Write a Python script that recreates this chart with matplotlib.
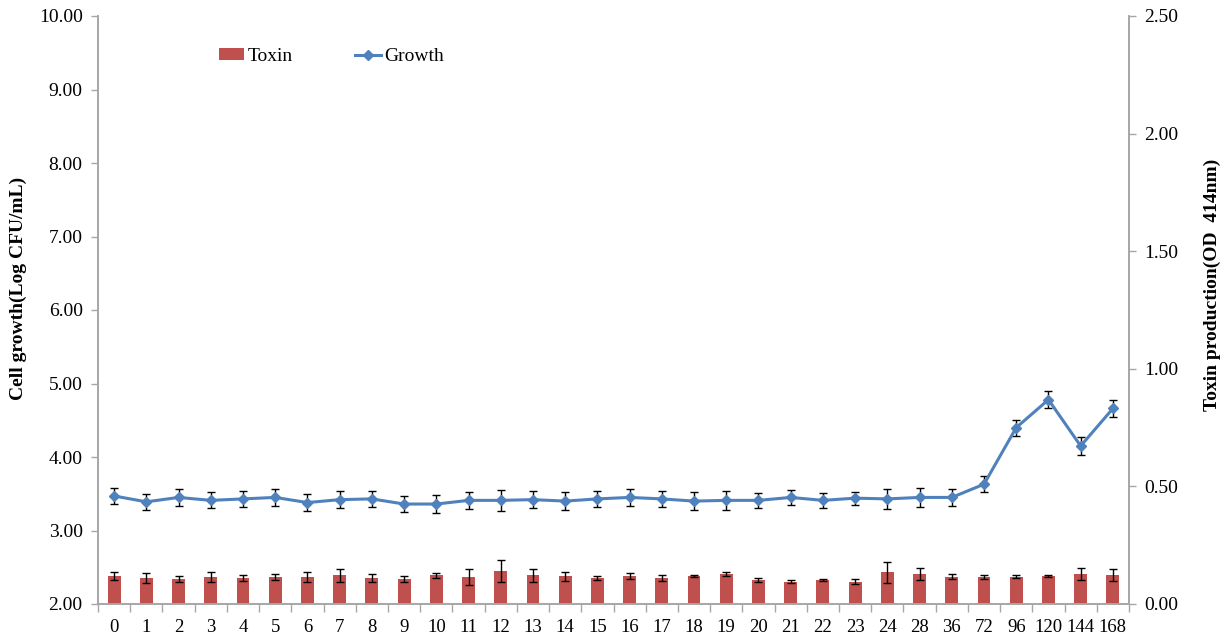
import matplotlib
matplotlib.use("Agg")
import matplotlib.pyplot as plt
from matplotlib.lines import Line2D
from matplotlib.patches import Patch
import numpy as np

# Sampling times (h)
times = ["0", "1", "2", "3", "4", "5", "6", "7", "8", "9", "10", "11", "12",
         "13", "14", "15", "16", "17", "18", "19", "20", "21", "22", "23", "24",
         "28", "36", "72", "96", "120", "144", "168"]

# Cell growth (Log CFU/mL) and its standard deviation
growth = [3.47, 3.39, 3.45, 3.41, 3.43, 3.45, 3.38, 3.42, 3.43, 3.36, 3.36, 3.41, 3.41,
          3.42, 3.40, 3.43, 3.45, 3.43, 3.40, 3.41, 3.41, 3.45, 3.41, 3.44, 3.43,
          3.45, 3.45, 3.63, 4.40, 4.78, 4.15, 4.66]
growth_sd = [0.11, 0.11, 0.11, 0.11, 0.11, 0.11, 0.11, 0.12, 0.11, 0.11, 0.12, 0.12, 0.14,
             0.12, 0.12, 0.11, 0.12, 0.11, 0.12, 0.13, 0.10, 0.10, 0.10, 0.09, 0.14,
             0.13, 0.12, 0.11, 0.11, 0.12, 0.12, 0.12]

# Toxin production (OD 414nm) and its standard deviation
toxin = [0.118, 0.110, 0.106, 0.115, 0.110, 0.115, 0.115, 0.122, 0.110, 0.106, 0.122, 0.115, 0.139,
         0.122, 0.118, 0.110, 0.118, 0.110, 0.118, 0.126, 0.103, 0.095, 0.103, 0.095, 0.135,
         0.128, 0.116, 0.116, 0.116, 0.119, 0.128, 0.123]
toxin_sd = [0.016, 0.021, 0.014, 0.021, 0.013, 0.011, 0.021, 0.028, 0.018, 0.014, 0.011, 0.035, 0.047,
            0.028, 0.019, 0.010, 0.013, 0.013, 0.004, 0.009, 0.009, 0.007, 0.004, 0.010, 0.045,
            0.024, 0.010, 0.009, 0.006, 0.005, 0.025, 0.027]

plt.rcParams["font.family"] = ["Liberation Serif", "DejaVu Serif"]

bar_color = "#C0504D"
line_color = "#4F81BD"
spine_color = "#A6A6A6"

fig = plt.figure(figsize=(12.27, 6.40), dpi=100)
ax_tox = fig.add_axes([98 / 1227, 36 / 640, (1129 - 98) / 1227, (604 - 16) / 640])
ax_gr = ax_tox.twinx()

x = np.arange(len(times))

# Toxin bars on the right axis
ax_tox.bar(x, toxin, width=0.40, color=bar_color, zorder=2)
ax_tox.errorbar(x, toxin, yerr=toxin_sd, fmt="none", ecolor="black",
                elinewidth=1.0, capsize=3, capthick=1.0, zorder=3)
ax_tox.set_ylim(0, 2.5)
ax_tox.yaxis.tick_right()
ax_tox.yaxis.set_label_position("right")
ax_tox.set_yticks(np.arange(0, 2.51, 0.5))
ax_tox.set_yticklabels([f"{v:.2f}" for v in np.arange(0, 2.51, 0.5)])

# Growth line on the left axis
ax_gr.yaxis.tick_left()
ax_gr.yaxis.set_label_position("left")
ax_gr.errorbar(x, growth, yerr=growth_sd, fmt="none", ecolor="black",
               elinewidth=1.0, capsize=3, capthick=1.0, zorder=3)
ax_gr.plot(x, growth, color=line_color, lw=2.2, marker="D", ms=5.5,
           markerfacecolor=line_color, markeredgecolor=line_color, zorder=4)
ax_gr.set_ylim(2, 10)
ax_gr.set_yticks(np.arange(2, 10.01, 1))
ax_gr.set_yticklabels([f"{v:.2f}" for v in np.arange(2, 10.01, 1)])

ax_tox.set_xlim(-0.5, len(times) - 0.5)
ax_tox.set_xticks(x)
ax_tox.set_xticklabels(times)
ax_tox.set_xticks(np.arange(-0.5, len(times), 1), minor=True)
ax_tox.tick_params(axis="x", which="major", length=0, labelsize=13.5, pad=11)
ax_tox.tick_params(axis="x", which="minor", length=6, color=spine_color, width=1)

for a in (ax_tox, ax_gr):
    a.spines["top"].set_visible(False)
    for s in ("left", "right", "bottom"):
        a.spines[s].set_color(spine_color)
        a.spines[s].set_linewidth(1.2)
    a.tick_params(axis="y", length=5, color=spine_color, width=1, labelsize=14, pad=6)

ax_gr.set_ylabel("Cell growth(Log CFU/mL)", fontsize=14, fontweight="bold")
ax_tox.set_ylabel("Toxin production(OD  414nm)", fontsize=14, fontweight="bold")
ax_gr.yaxis.set_label_coords(-0.069, 0.536)
ax_tox.yaxis.set_label_coords(1.072, 0.543)

handles = [Patch(facecolor=bar_color, edgecolor="none"),
           Line2D([0], [0], color=line_color, lw=2.2, marker="D", ms=5)]
ax_gr.legend(handles, ["Toxin", "Growth"], loc="upper left", bbox_to_anchor=(0.1002, 0.975),
             ncol=2, frameon=False, fontsize=14, handlelength=1.3, handletextpad=0.2,
             columnspacing=3.2, handleheight=0.55)

fig.savefig("out.png", dpi=100)
